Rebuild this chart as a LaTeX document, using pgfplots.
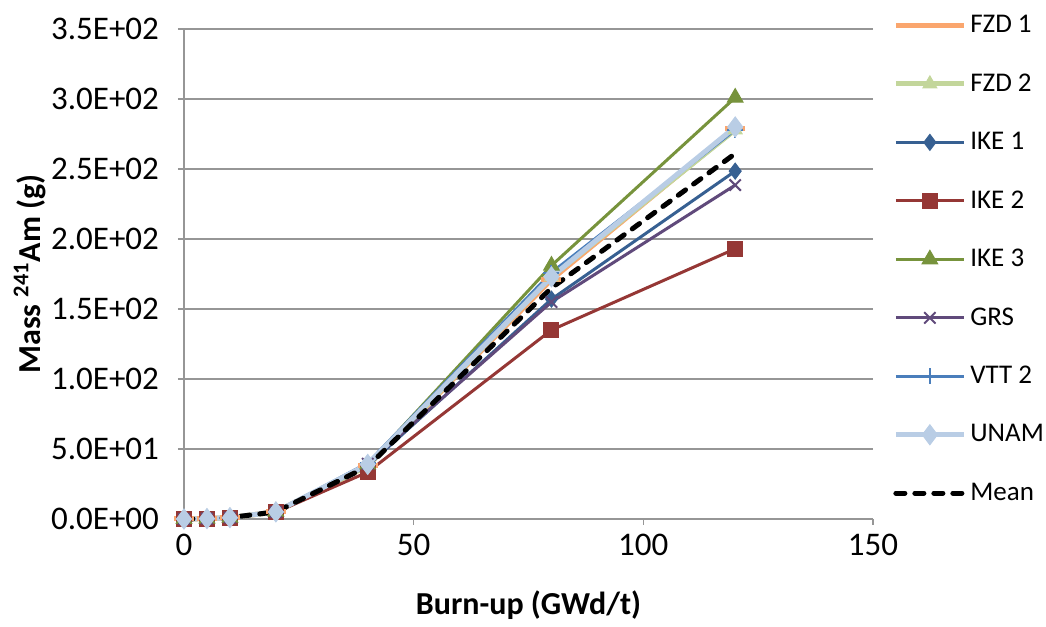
\documentclass[border=0pt]{standalone}
\usepackage{fontspec}
\setmainfont{Carlito}
\usepackage{pgfplots}
\pgfplotsset{compat=1.18}

\definecolor{cfzda}{RGB}{250,166,110}
\definecolor{cfzdb}{RGB}{195,214,155}
\definecolor{cikea}{RGB}{55,96,146}
\definecolor{cikeb}{RGB}{149,55,53}
\definecolor{cikec}{RGB}{119,147,60}
\definecolor{cgrs}{RGB}{96,74,123}
\definecolor{cvtt}{RGB}{74,126,187}
\definecolor{cunam}{RGB}{185,205,229}
\definecolor{gridgray}{RGB}{150,150,150}

\begin{document}
\begin{tikzpicture}
\useasboundingbox (-92pt,-54pt) rectangle (431pt,259.5pt);
\begin{axis}[
    scale only axis, width=344.5pt, height=245pt,
    xmin=0, xmax=150, ymin=0, ymax=350,
    xtick={0,50,100,150},
    ytick={0,50,...,350},
    yticklabels={0.0E+00,5.0E+01,1.0E+02,1.5E+02,2.0E+02,2.5E+02,3.0E+02,3.5E+02},
    axis lines*=left,
    axis line style={draw=gridgray, line width=0.8pt},
    ymajorgrids, grid style={draw=gridgray, line width=0.8pt},
    tick align=outside, major tick length=3pt,
    tick style={draw=gridgray, line width=0.8pt},
    /pgf/number format/assume math mode=true,
    tick label style={font=\fontsize{16.5}{19}\selectfont},
    yticklabel style={xshift=-6pt},
    xticklabel style={yshift=-1pt},
    xlabel={Burn-up (GWd/t)},
    ylabel={Mass \textsuperscript{241}Am (g)},
    label style={font=\bfseries\fontsize{16}{19}\selectfont},
    xlabel style={at={(rel axis cs:0.5,-0.1755)}, anchor=center},
    ylabel style={at={(rel axis cs:-0.2235,0.5)}, anchor=center},
    clip=false,
    legend cell align=left,
    legend image code/.code={\draw[mark repeat=2,mark phase=2,#1] plot coordinates {(0pt,0pt) (17pt,0pt) (34pt,0pt)};},
    legend style={at={(rel axis cs:1.029,1.037)}, anchor=north west, draw=none, fill=none,
        font=\fontsize{13.5}{16}\selectfont, row sep=15pt, inner sep=0pt},
]
\addplot[cfzda, line width=2.5pt, mark=-, mark size=5pt] coordinates {(0,0) (5,0.3) (10,1.0) (20,5.0) (40,38) (80,171) (120,279)};
\addlegendentry{FZD 1}
\addplot[cfzdb, line width=2.5pt, mark=triangle*, mark size=4pt, mark options={line width=0.5pt}] coordinates {(0,0) (5,0.3) (10,1.0) (20,5.0) (40,38) (80,173) (120,278)};
\addlegendentry{FZD 2}
\addplot[cikea, line width=1.5pt, mark=diamond*, mark size=4pt, mark options={line width=0.5pt}] coordinates {(0,0) (5,0.3) (10,1.0) (20,5.2) (40,38) (80,157) (120,248.5)};
\addlegendentry{IKE 1}
\addplot[cikeb, line width=1.5pt, mark=square*, mark size=3.75pt, mark options={line width=0.5pt}] coordinates {(0,0) (5,0.3) (10,0.9) (20,4.8) (40,33.5) (80,135) (120,193)};
\addlegendentry{IKE 2}
\addplot[cikec, line width=1.5pt, mark=triangle*, mark size=4.5pt, mark options={line width=0.5pt}] coordinates {(0,0) (5,0.3) (10,1.0) (20,5.2) (40,39) (80,181) (120,301)};
\addlegendentry{IKE 3}
\addplot[cgrs, line width=1.5pt, mark=x, mark size=4pt, mark options={line width=1pt}] coordinates {(0,0) (5,0.3) (10,1.0) (20,5.0) (40,39.5) (80,155) (120,238.5)};
\addlegendentry{GRS}
\addplot[cvtt, line width=1.5pt, mark=+, mark size=4pt, mark options={line width=1pt}] coordinates {(0,0) (5,0.3) (10,1.0) (20,5.2) (40,40) (80,176) (120,278)};
\addlegendentry{VTT 2}
\addplot[cunam, line width=2.5pt, mark=diamond*, mark size=5pt, mark options={line width=0.5pt}] coordinates {(0,0) (5,0.3) (10,1.0) (20,5.1) (40,39) (80,173) (120,280)};
\addlegendentry{UNAM}
\addplot[black, line width=2.5pt, line cap=round, dash pattern=on 4.5pt off 5pt] coordinates {(0,0) (5,0.3) (10,1.0) (20,5.1) (40,37.5) (80,165) (120,261)};
\addlegendentry{Mean}
\end{axis}
\end{tikzpicture}
\end{document}
